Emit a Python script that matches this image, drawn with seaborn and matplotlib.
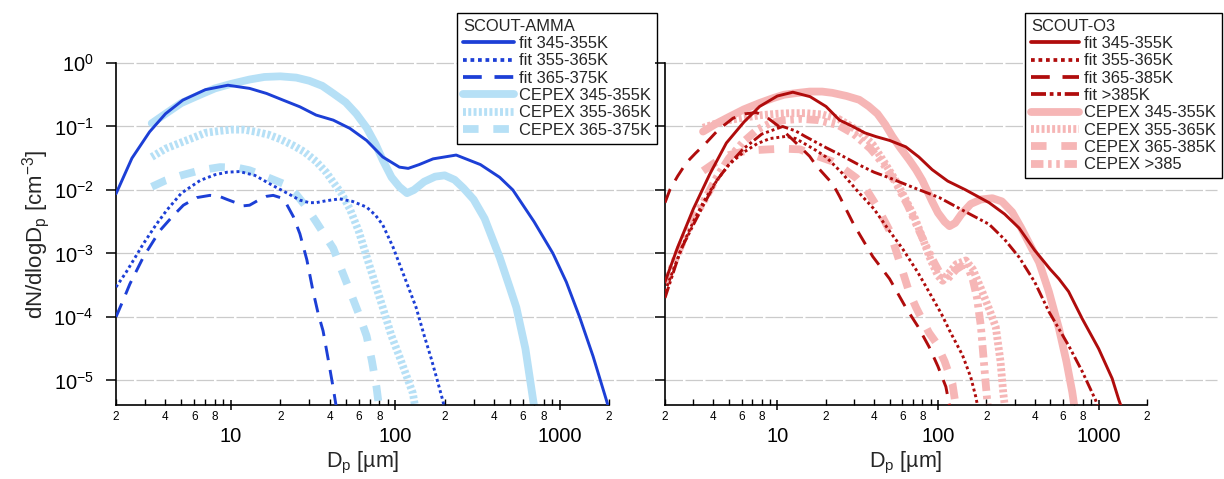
import numpy as np
import pandas as pd
import matplotlib
matplotlib.use("Agg")
import matplotlib.pyplot as plt
import seaborn as sns
from matplotlib.lines import Line2D
from matplotlib.ticker import FixedLocator, FixedFormatter, NullLocator

# ---------------------------------------------------------------------------
# Size distributions: diameter D_p [um] and log10 of dN/dlogD_p [cm^-3]
# ---------------------------------------------------------------------------
# SCOUT-AMMA
amma_fit_345_d = [2.0, 2.5, 3.2, 4.0, 5.1, 7.0, 9.6, 13, 16.5, 20.8, 26.3, 33, 42, 53, 67, 84,
                  106, 120, 140, 170, 235, 330, 432, 520, 700, 912, 1100, 1324, 1600, 1923, 2000]
amma_fit_345_log = [-2.06, -1.5, -1.085, -0.8, -0.585, -0.42, -0.35, -0.4, -0.48, -0.585, -0.69,
                    -0.82, -0.9, -1.03, -1.22, -1.48, -1.64, -1.66, -1.6, -1.51, -1.45, -1.6, -1.8,
                    -2.0, -2.5, -3.0, -3.45, -4.0, -4.62, -5.3, -5.45]

amma_fit_355_d = [2.0, 2.3, 2.55, 2.93, 3.5, 4.07, 5.0, 6.5, 8.0, 9.5, 11.3, 14, 18, 22, 26.3, 30,
                  33, 38, 46, 55, 67, 76, 84, 97, 115, 134, 150, 165, 180, 195, 200]
amma_fit_355_log = [-3.53, -3.3, -3.11, -2.85, -2.55, -2.32, -2.05, -1.85, -1.76, -1.72, -1.71,
                    -1.77, -1.93, -2.05, -2.16, -2.2, -2.2, -2.17, -2.14, -2.18, -2.27, -2.4, -2.55,
                    -2.9, -3.4, -3.85, -4.29, -4.64, -4.99, -5.32, -5.45]

amma_fit_365_d = [2.0, 2.2, 2.43, 2.93, 3.7, 4.4, 5.14, 6.2, 7.46, 8.5, 9.5, 10.7, 11.9, 13, 14.5,
                  16.5, 18.1, 20, 21.8, 24, 26.3, 29, 31.6, 34, 36.4, 39, 41.9, 44]
amma_fit_365_log = [-4.0, -3.75, -3.48, -3.06, -2.64, -2.42, -2.24, -2.12, -2.085, -2.1, -2.15,
                    -2.2, -2.25, -2.24, -2.17, -2.1, -2.085, -2.12, -2.22, -2.42, -2.69, -3.1,
                    -3.59, -3.95, -4.22, -4.65, -5.11, -5.45]

amma_cepex_345_d = [3.3, 4.0, 5.0, 6.5, 8.0, 10, 13, 16, 20, 25, 30, 36, 42, 50, 58, 67, 76, 84,
                    95, 106, 118, 130, 150, 175, 200, 230, 260, 300, 350, 432, 500, 546, 620, 690, 720]
amma_cepex_345_log = [-0.95, -0.8, -0.63, -0.5, -0.4, -0.33, -0.26, -0.22, -0.21, -0.23, -0.28,
                      -0.36, -0.48, -0.62, -0.8, -1.02, -1.28, -1.53, -1.8, -1.95, -2.05, -2.0,
                      -1.87, -1.79, -1.77, -1.84, -1.97, -2.15, -2.45, -3.06, -3.55, -3.85, -4.5,
                      -5.3, -5.6]

amma_cepex_355_d = [3.3, 4.0, 5.0, 6.0, 7.0, 8.5, 10, 12, 14, 17, 20, 24, 28, 33, 38, 42, 47, 53,
                    60, 67, 75, 84, 95, 106, 118, 128, 133]
amma_cepex_355_log = [-1.48, -1.35, -1.25, -1.17, -1.1, -1.07, -1.05, -1.05, -1.08, -1.13, -1.2,
                      -1.3, -1.4, -1.55, -1.72, -1.88, -2.05, -2.3, -2.65, -3.05, -3.45, -3.85,
                      -4.3, -4.62, -4.95, -5.2, -5.45]

amma_cepex_365_d = [3.3, 4.0, 5.0, 6.5, 8.6, 11, 13, 16, 20.8, 25, 28.8, 33, 37, 42, 47, 53, 60,
                    67, 72, 77, 80]
amma_cepex_365_log = [-1.95, -1.85, -1.77, -1.69, -1.64, -1.65, -1.69, -1.78, -1.9, -2.07, -2.27,
                      -2.5, -2.7, -2.92, -3.25, -3.59, -3.95, -4.3, -4.68, -5.11, -5.45]

# SCOUT-O3
o3_fit_345_d = [2.0, 2.4, 3.0, 3.8, 4.82, 6.2, 7.76, 10, 12.5, 16, 20.1, 24.4, 29.5, 35, 41.2, 50,
                63, 76, 92, 115, 149, 208, 260, 320, 400, 500, 566, 650, 791, 1000, 1214, 1337, 1400]
o3_fit_345_log = [-3.45, -2.9, -2.3, -1.75, -1.26, -0.93, -0.685, -0.52, -0.46, -0.53, -0.685,
                  -0.9, -1.0, -1.1, -1.16, -1.22, -1.32, -1.48, -1.68, -1.86, -2.0, -2.2, -2.38,
                  -2.6, -2.95, -3.25, -3.4, -3.6, -4.03, -4.5, -4.97, -5.31, -5.45]

o3_fit_355_d = [2.0, 2.3, 2.6, 3.0, 3.45, 4.2, 5.0, 6.1, 7.5, 9.0, 11.4, 13, 15, 17.5, 20.1, 25,
                32.4, 40, 50, 60, 75, 90, 105, 120, 142, 160, 172, 178]
o3_fit_355_log = [-3.6, -3.2, -2.85, -2.5, -2.2, -1.85, -1.6, -1.415, -1.27, -1.19, -1.155, -1.19,
                  -1.28, -1.38, -1.48, -1.72, -2.05, -2.3, -2.65, -2.92, -3.3, -3.65, -3.95, -4.25,
                  -4.6, -4.95, -5.26, -5.45]

o3_fit_365_d = [2.0, 2.15, 2.4, 2.72, 3.1, 3.6, 4.3, 5.3, 6.3, 7.4, 8.55, 10, 12.5, 15.9, 17.5,
                22.2, 24.4, 30, 39.3, 50, 63, 75, 88, 100, 112, 118]
o3_fit_365_log = [-2.2, -1.99, -1.78, -1.57, -1.42, -1.26, -1.05, -0.87, -0.8, -0.78, -0.85,
                  -0.98, -1.21, -1.47, -1.62, -1.91, -2.1, -2.55, -3.05, -3.4, -3.85, -4.15,
                  -4.47, -4.78, -5.1, -5.4]

o3_fit_385_d = [2.0, 2.5, 3.0, 3.45, 4.2, 5.0, 6.1, 8.0, 10.8, 13, 15, 20, 24.4, 32, 40, 50, 70,
                102, 150, 208, 260, 320, 400, 491, 650, 791, 957, 1000]
o3_fit_385_log = [-3.7, -2.95, -2.55, -2.25, -1.85, -1.6, -1.36, -1.12, -1.0, -1.07, -1.16, -1.33,
                  -1.44, -1.6, -1.72, -1.81, -1.96, -2.12, -2.35, -2.54, -2.78, -3.06, -3.45,
                  -3.92, -4.45, -4.86, -5.31, -5.45]

o3_cepex_345_d = [3.45, 4.2, 5.0, 6.2, 7.76, 9.5, 11, 13.5, 15.9, 19, 22, 27, 32.4, 37, 42, 47, 52,
                  58, 66, 73, 80, 86, 92, 100, 110, 118, 128, 140, 160, 185, 218, 250, 290, 330,
                  380, 426, 490, 566, 630, 685, 710]
o3_cepex_345_log = [-1.08, -0.95, -0.85, -0.73, -0.63, -0.55, -0.5, -0.47, -0.45, -0.45, -0.47,
                    -0.52, -0.58, -0.68, -0.8, -0.97, -1.155, -1.33, -1.52, -1.68, -1.85, -2.02,
                    -2.18, -2.36, -2.5, -2.57, -2.52, -2.38, -2.22, -2.15, -2.13, -2.18, -2.35,
                    -2.6, -2.9, -3.14, -3.6, -4.18, -4.7, -5.18, -5.45]

o3_cepex_355_d = [3.45, 4.2, 5.0, 6.2, 8.0, 10, 12, 15, 19, 24, 28, 33, 39.3, 46, 54.8, 63, 72, 80,
                  90, 100, 107, 118, 130, 149, 165, 185, 210, 229, 245, 255, 262]
o3_cepex_355_log = [-1.02, -0.95, -0.9, -0.86, -0.82, -0.8, -0.79, -0.79, -0.81, -0.88, -0.98,
                    -1.1, -1.285, -1.55, -1.86, -2.15, -2.45, -2.75, -3.1, -3.35, -3.43, -3.3,
                    -3.17, -3.11, -3.25, -3.55, -3.9, -4.16, -4.7, -5.2, -5.45]

o3_cepex_365_d = [3.45, 4.2, 5.0, 6.5, 8.9, 11, 13.8, 17, 22, 26, 31, 36, 41, 45, 50, 58, 66, 73,
                  80, 88, 97, 110, 123, 130]
o3_cepex_365_log = [-1.7, -1.55, -1.45, -1.38, -1.36, -1.35, -1.36, -1.45, -1.55, -1.67, -1.81,
                    -2.0, -2.23, -2.42, -2.64, -3.15, -3.6, -3.85, -4.05, -4.25, -4.4, -4.7,
                    -5.05, -5.45]

o3_cepex_385_d = [2.0, 2.4, 2.86, 3.45, 4.2, 5.0, 6.1, 7.5, 9.0, 11, 14, 18, 24, 30, 38, 46, 55,
                  65, 75, 85, 95, 105, 115, 130, 150, 165, 175, 185, 199, 205]
o3_cepex_385_log = [-3.5, -3.0, -2.55, -2.2, -1.8, -1.5, -1.25, -1.05, -0.95, -0.9, -0.88, -0.9,
                    -0.98, -1.12, -1.35, -1.6, -1.9, -2.25, -2.6, -2.9, -3.15, -3.35, -3.4, -3.25,
                    -3.15, -3.42, -3.7, -4.15, -5.1, -5.45]

# Axis ticks and labels
x_major = [10, 100, 1000]
x_major_labels = ["10", "100", "1000"]
x_minor = [2, 3, 4, 5, 6, 7, 8, 9, 20, 30, 40, 50, 60, 70, 80, 90,
           200, 300, 400, 500, 600, 700, 800, 900, 2000]
x_minor_labels = ["2", "", "4", "", "6", "", "8", "",
                  "2", "", "4", "", "6", "", "8", "",
                  "2", "", "4", "", "6", "", "8", "", "2"]
y_major = [1e0, 1e-1, 1e-2, 1e-3, 1e-4, 1e-5]
y_major_labels = [r"$10^{0}$", r"$10^{-1}$", r"$10^{-2}$", r"$10^{-3}$", r"$10^{-4}$", r"$10^{-5}$"]

# ---------------------------------------------------------------------------
sns.set_theme(style="white")
plt.rcParams["font.family"] = ["Liberation Sans", "DejaVu Sans"]
plt.rcParams["mathtext.fontset"] = "custom"
plt.rcParams["mathtext.rm"] = "Liberation Sans"
plt.rcParams["mathtext.it"] = "Liberation Sans:italic"
plt.rcParams["mathtext.bf"] = "Liberation Sans:bold"
plt.rcParams["mathtext.default"] = "regular"

BLUE = "#1c3fd6"
LIGHT_BLUE = "#b6e0f6"
RED = "#b00c0c"
PINK = "#f6b6b6"

FIT_LW = 2.1
CEPEX_LW = 5.6
SOLID = "-"
FIT_DOT = (0, (1.0, 1.0))
FIT_DASH = (0, (5.0, 3.4))
FIT_DASHDOT = (0, (4.0, 1.0, 1.0, 1.0, 1.0, 1.0))
CEPEX_DOT = (0, (0.38, 0.3))
CEPEX_DASH = (0, (2.0, 1.9))
CEPEX_DASHDOT = (0, (1.6, 0.6, 0.45, 0.6, 0.45, 0.6))

fig = plt.figure(figsize=(12.24, 4.79), dpi=100)
ax_l = fig.add_axes([116 / 1224, 74 / 479, 493 / 1224, 342 / 479])
ax_r = fig.add_axes([665 / 1224, 74 / 479, 482 / 1224, 342 / 479])


def draw(ax, d, logn, color, lw, ls, z):
    frame = pd.DataFrame({"Dp": d, "dNdlogDp": np.power(10.0, np.asarray(logn))})
    sns.lineplot(data=frame, x="Dp", y="dNdlogDp", ax=ax, color=color, linewidth=lw,
                 linestyle=ls, estimator=None, sort=False, legend=False, zorder=z)


def style_axes(ax, grid_extent, show_ylabels):
    ax.set_xscale("log")
    ax.set_yscale("log")
    ax.set_xlim(2, 2000)
    ax.set_ylim(4.1e-6, 1.0)
    for side in ("top", "right"):
        ax.spines[side].set_visible(False)
    for side in ("left", "bottom"):
        ax.spines[side].set_color("black")
        ax.spines[side].set_linewidth(1.2)
    ax.xaxis.set_major_locator(FixedLocator(x_major))
    ax.xaxis.set_major_formatter(FixedFormatter(x_major_labels))
    ax.xaxis.set_minor_locator(FixedLocator(x_minor))
    ax.xaxis.set_minor_formatter(FixedFormatter(x_minor_labels))
    ax.tick_params(axis="x", which="major", direction="inout", length=7, width=1.1,
                   pad=12.5, labelsize=14.5, colors="black", bottom=True)
    ax.tick_params(axis="x", which="minor", direction="in", length=4, width=1.0,
                   pad=4, labelsize=8.5, colors="black", bottom=True)
    ax.yaxis.set_major_locator(FixedLocator(y_major))
    ax.yaxis.set_minor_locator(NullLocator())
    if show_ylabels:
        ax.yaxis.set_major_formatter(FixedFormatter(y_major_labels))
    else:
        ax.yaxis.set_major_formatter(FixedFormatter([""] * len(y_major)))
    ax.tick_params(axis="y", which="major", direction="out", length=7, width=1.1,
                   pad=9, labelsize=14.5, colors="black", left=True)
    for yv in y_major:
        ax.axhline(yv, xmin=0, xmax=grid_extent, color="#cbcbcb", lw=0.9,
                   ls=(0, (14, 2)), zorder=0.5, clip_on=False)
    ax.set_xlabel(r"D$_{\mathrm{p}}$ [µm]", fontsize=15.5, labelpad=3)


# SCOUT-AMMA panel
draw(ax_l, amma_cepex_345_d, amma_cepex_345_log, LIGHT_BLUE, CEPEX_LW, SOLID, 2)
draw(ax_l, amma_cepex_355_d, amma_cepex_355_log, LIGHT_BLUE, CEPEX_LW, CEPEX_DOT, 2)
draw(ax_l, amma_cepex_365_d, amma_cepex_365_log, LIGHT_BLUE, CEPEX_LW, CEPEX_DASH, 2)
draw(ax_l, amma_fit_345_d, amma_fit_345_log, BLUE, FIT_LW, SOLID, 3)
draw(ax_l, amma_fit_355_d, amma_fit_355_log, BLUE, FIT_LW, FIT_DOT, 3)
draw(ax_l, amma_fit_365_d, amma_fit_365_log, BLUE, FIT_LW, FIT_DASH, 3)

# SCOUT-O3 panel
draw(ax_r, o3_cepex_345_d, o3_cepex_345_log, PINK, CEPEX_LW, SOLID, 2)
draw(ax_r, o3_cepex_355_d, o3_cepex_355_log, PINK, CEPEX_LW, CEPEX_DOT, 2)
draw(ax_r, o3_cepex_365_d, o3_cepex_365_log, PINK, CEPEX_LW, CEPEX_DASH, 2)
draw(ax_r, o3_cepex_385_d, o3_cepex_385_log, PINK, CEPEX_LW, CEPEX_DASHDOT, 2)
draw(ax_r, o3_fit_345_d, o3_fit_345_log, RED, FIT_LW, SOLID, 3)
draw(ax_r, o3_fit_355_d, o3_fit_355_log, RED, FIT_LW, FIT_DOT, 3)
draw(ax_r, o3_fit_365_d, o3_fit_365_log, RED, FIT_LW, FIT_DASH, 3)
draw(ax_r, o3_fit_385_d, o3_fit_385_log, RED, FIT_LW, FIT_DASHDOT, 3)

style_axes(ax_l, 1.093, True)
style_axes(ax_r, 1.145, False)
ax_l.set_ylabel(r"dN/dlogD$_{\mathrm{p}}$ [cm$^{-3}$]", fontsize=16)
ax_l.yaxis.set_label_coords(-0.13, 0.5)
ax_r.set_ylabel("")


def handle(color, lw, ls):
    return Line2D([], [], color=color, lw=lw, ls=ls)


legend_kw = dict(loc="upper left", fontsize=11.9, title_fontsize=11.9, alignment="left",
                 frameon=True, fancybox=False, framealpha=1.0, edgecolor="black",
                 handletextpad=0.3, labelspacing=0.14, borderpad=0.35, borderaxespad=0.0)

leg_l = ax_l.legend(
    handles=[handle(BLUE, FIT_LW + 0.6, SOLID), handle(BLUE, FIT_LW + 0.6, FIT_DOT),
             handle(BLUE, FIT_LW + 0.6, FIT_DASH), handle(LIGHT_BLUE, CEPEX_LW, SOLID),
             handle(LIGHT_BLUE, CEPEX_LW, CEPEX_DOT), handle(LIGHT_BLUE, CEPEX_LW, CEPEX_DASH)],
    labels=["fit 345-355K", "fit 355-365K", "fit 365-375K",
            "CEPEX 345-355K", "CEPEX 355-365K", "CEPEX 365-375K"],
    title="SCOUT-AMMA", bbox_to_anchor=(0.692, 1.146), handlelength=3.1, **legend_kw)
leg_l.get_frame().set_linewidth(1.0)
leg_l.set_zorder(10)

leg_r = ax_r.legend(
    handles=[handle(RED, FIT_LW + 0.6, SOLID), handle(RED, FIT_LW + 0.6, FIT_DOT),
             handle(RED, FIT_LW + 0.6, FIT_DASH), handle(RED, FIT_LW + 0.6, FIT_DASHDOT),
             handle(PINK, CEPEX_LW, SOLID), handle(PINK, CEPEX_LW, CEPEX_DOT),
             handle(PINK, CEPEX_LW, CEPEX_DASH), handle(PINK, CEPEX_LW, CEPEX_DASHDOT)],
    labels=["fit 345-355K", "fit 355-365K", "fit 365-385K", "fit >385K",
            "CEPEX 345-355K", "CEPEX 355-365K", "CEPEX 365-385K", "CEPEX >385"],
    title="SCOUT-O3", bbox_to_anchor=(0.747, 1.146), handlelength=2.9, **legend_kw)
leg_r.get_frame().set_linewidth(1.0)
leg_r.set_zorder(10)

fig.savefig("out.png", dpi=100, facecolor="white")
